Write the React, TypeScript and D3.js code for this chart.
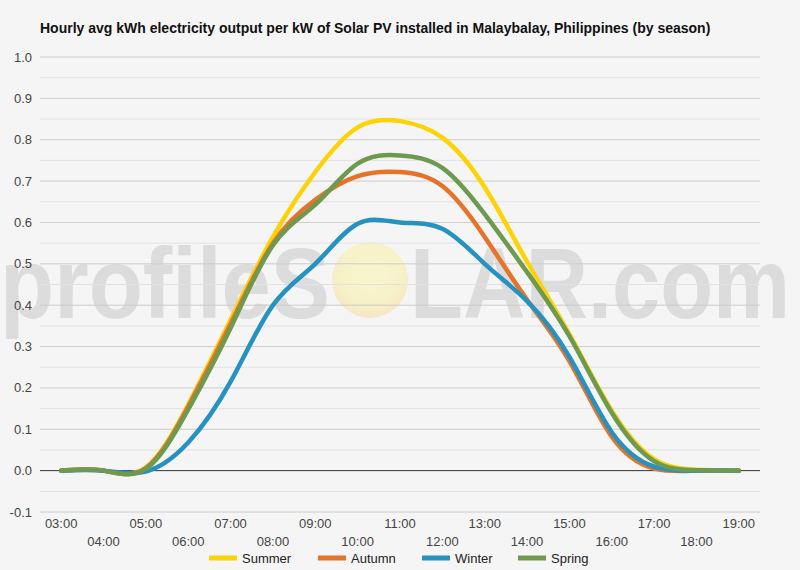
import * as d3 from "d3";

const width = 800;
const height = 570;
const margin = { top: 57, right: 40, bottom: 58, left: 40 };

const title =
    "Hourly avg kWh electricity output per kW of Solar PV installed in Malaybalay, Philippines (by season)";

const hours = [
    "03:00", "04:00", "05:00", "06:00", "07:00", "08:00", "09:00", "10:00", "11:00",
    "12:00", "13:00", "14:00", "15:00", "16:00", "17:00", "18:00", "19:00",
];

const summer = [0, 0, 0.008, 0.16, 0.365, 0.565, 0.722, 0.83, 0.845, 0.805, 0.685, 0.505, 0.33, 0.145, 0.028, 0.002, 0];
const autumn = [0, 0, 0.006, 0.155, 0.355, 0.55, 0.655, 0.712, 0.722, 0.688, 0.565, 0.413, 0.265, 0.082, 0.005, 0, 0];
const winter = [0, 0, -0.002, 0.068, 0.215, 0.4, 0.5, 0.597, 0.6, 0.585, 0.5, 0.41, 0.275, 0.093, 0.01, 0, 0];
const spring = [0, 0, 0.004, 0.148, 0.345, 0.545, 0.643, 0.742, 0.762, 0.732, 0.62, 0.48, 0.325, 0.14, 0.023, 0.001, 0];

const yTicks = [-0.1, 0, 0.1, 0.2, 0.3, 0.4, 0.5, 0.6, 0.7, 0.8, 0.9, 1.0];
const yMinor = [-0.05, 0.05, 0.15, 0.25, 0.35, 0.45, 0.55, 0.65, 0.75, 0.85, 0.95];

const series = [
    { name: "Summer", color: "#fcd307", values: summer },
    { name: "Autumn", color: "#e5732a", values: autumn },
    { name: "Winter", color: "#2592c0", values: winter },
    { name: "Spring", color: "#6e9a50", values: spring },
];

const font = "'Liberation Sans', Arial, sans-serif";

const App = () => {
    const xScale = d3
        .scalePoint()
        .domain(hours)
        .range([margin.left, width - margin.right])
        .padding(0.5);

    const yScale = d3
        .scaleLinear()
        .domain([-0.1, 1.0])
        .range([height - margin.bottom, margin.top]);

    // smooth C2 spline, gives the small dips below zero near sunrise/sunset
    const line = d3
        .line()
        .x((d, i) => xScale(hours[i]))
        .y((d) => yScale(d))
        .curve(d3.curveNatural);

    // legend slots (swatch start x)
    const legendX = [209, 318, 422, 518];
    const legendY = 558;

    return (
        <svg
            width={width}
            height={height}
            style={{ position: "absolute", left: 0, top: 0, display: "block" }}
            fontFamily={font}
        >
            <defs>
                <radialGradient id="sun" cx="50%" cy="40%" r="60%">
                    <stop offset="0%" stopColor="#f8f6cf" />
                    <stop offset="70%" stopColor="#f7f1c6" />
                    <stop offset="100%" stopColor="#f6e6c6" />
                </radialGradient>
            </defs>
            <rect width={width} height={height} fill="#f5f5f5" />

            {/* watermark */}
            <g fill="#dcdcdc" fontWeight="bold">
                <text x={0} y={318} fontSize={100} textLength={330} lengthAdjust="spacingAndGlyphs">
                    profileS
                </text>
                <circle cx={370} cy={280} r={38} fill="url(#sun)" />
                <text x={410} y={318} fontSize={100} textLength={380} lengthAdjust="spacingAndGlyphs">
                    LAR.com
                </text>
            </g>

            <text x={40} y={33} fontSize={14} fontWeight="bold" fill="#111">
                {title}
            </text>

            {/* gridlines */}
            {yMinor.map((t) => (
                <line
                    key={`minor-${t}`}
                    x1={margin.left}
                    x2={width - margin.right}
                    y1={yScale(t)}
                    y2={yScale(t)}
                    stroke="#e2e2e2"
                    strokeWidth={1}
                />
            ))}
            {yTicks.map((t) => (
                <g key={`tick-${t}`}>
                    <line
                        x1={margin.left}
                        x2={width - margin.right}
                        y1={yScale(t)}
                        y2={yScale(t)}
                        stroke={t === 0 ? "#333" : "#cccccc"}
                        strokeWidth={1}
                    />
                    <text
                        x={32}
                        y={yScale(t) + 4.5}
                        textAnchor="end"
                        fontSize={13}
                        fill="#444"
                    >
                        {t.toFixed(1)}
                    </text>
                </g>
            ))}

            {/* x labels, staggered in two rows */}
            {hours.map((h, i) => (
                <text
                    key={h}
                    x={xScale(h)}
                    y={i % 2 === 0 ? 528 : 546}
                    textAnchor="middle"
                    fontSize={13}
                    fill="#444"
                >
                    {h}
                </text>
            ))}

            {series.map((s) => (
                <path
                    key={s.name}
                    d={line(s.values)}
                    fill="none"
                    stroke={s.color}
                    strokeWidth={4.5}
                    strokeLinejoin="round"
                    strokeLinecap="round"
                />
            ))}

            {series.map((s, i) => (
                <g key={`legend-${s.name}`}>
                    <rect x={legendX[i]} y={legendY - 2.5} width={28} height={5} fill={s.color} />
                    <text x={legendX[i] + 33} y={legendY + 4.5} fontSize={13} fill="#222">
                        {s.name}
                    </text>
                </g>
            ))}
        </svg>
    );
};

export default App;
